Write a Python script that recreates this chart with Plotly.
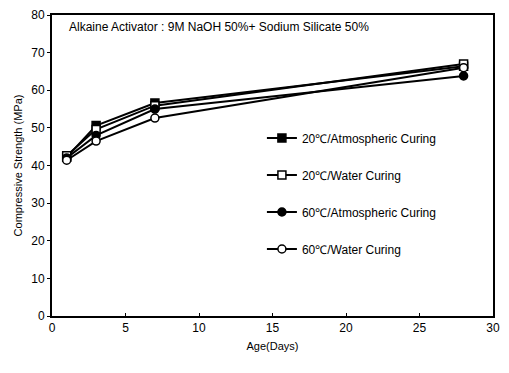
import plotly.graph_objects as go

days = [1, 3, 7, 28]
s20_atm = [42.2, 50.6, 56.6, 66.4]
s20_water = [42.6, 49.6, 55.9, 67.0]
s60_atm = [42.0, 48.0, 55.0, 63.8]
s60_water = [41.4, 46.5, 52.6, 66.0]

names = ["20℃/Atmospheric Curing", "20℃/Water Curing",
         "60℃/Atmospheric Curing", "60℃/Water Curing"]
series = [s20_atm, s20_water, s60_atm, s60_water]
symbols = ["square", "square", "circle", "circle"]
fills = ["black", "white", "black", "white"]

FONT = "Liberation Sans"
fig = go.Figure()
for i, (n, s, sym, fc) in enumerate(zip(names, series, symbols, fills)):
    fig.add_trace(go.Scatter(
        x=days, y=s, name=n, mode="lines+markers",
        legendgroup=str(i),
        line=dict(color="black", width=2),
        marker=dict(symbol=sym, size=8, color=fc,
                    line=dict(color="black", width=1.5)),
    ))

fig.update_layout(
    width=509, height=373,
    margin=dict(l=52, r=16, t=8, b=57),
    paper_bgcolor="white", plot_bgcolor="white",
    font=dict(family=FONT, size=11, color="black"),
    showlegend=True,
    legend=dict(x=0.476, y=0.407, xanchor="left", yanchor="middle",
                bgcolor="rgba(0,0,0,0)", tracegroupgap=18,
                font=dict(family=FONT, size=12)),
    xaxis=dict(range=[0, 30], dtick=5, showline=True, linecolor="black", linewidth=2,
               mirror=True, ticks="inside", ticklen=3, tickcolor="black",
               showgrid=False, zeroline=False,
               title=dict(text="Age(Days)", font=dict(size=11), standoff=8),
               tickfont=dict(size=12)),
    yaxis=dict(range=[0, 80], dtick=10, showline=True, linecolor="black", linewidth=2,
               mirror=True, ticks="outside", ticklen=3, tickcolor="black",
               showgrid=False, zeroline=False,
               title=dict(text="Compressive Strength (MPa)", font=dict(size=11), standoff=6),
               tickfont=dict(size=12)),
    annotations=[dict(text="Alkaine Activator : 9M NaOH 50%+ Sodium Silicate 50%",
                      x=0.035, y=0.99, xref="paper", yref="paper",
                      xanchor="left", yanchor="top", showarrow=False,
                      font=dict(family=FONT, size=12))],
)

fig.write_html("out.html")
